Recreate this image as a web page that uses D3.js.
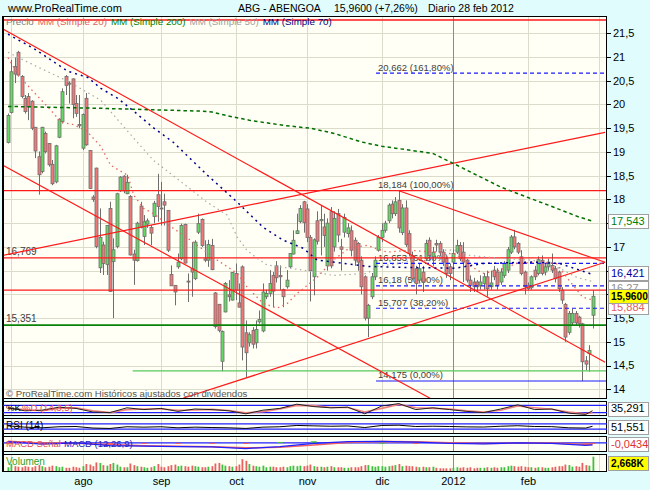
<!DOCTYPE html>
<html><head><meta charset="utf-8">
<script src="https://cdn.jsdelivr.net/npm/d3@7"></script>
<style>body{margin:0;background:#e0fcfc;} svg{display:block;font-family:"Liberation Sans",Arial,sans-serif;}</style>
</head><body><svg id="c" width="650" height="490"></svg>
<script>
// ---------- DATA ----------
const open = [
19.20,19.83,20.80,21.10,20.59,20.13,20.17,20.07,19.52,18.90,
18.59,19.39,19.18,18.74,18.37,19.31,19.64,20.59,20.45,20.54,
20.02,19.58,19.08,20.13,19.03,18.05,18.66,16.56,17.04,16.63,
17.81,16.69,17.01,18.18,18.49,18.12,18.06,16.85,16.71,17.86,
17.22,17.48,17.41,17.64,18.10,17.82,17.95,17.77,16.42,16.19,
16.58,16.75,17.47,16.28,16.54,16.33,17.31,17.58,16.75,16.72,
17.03,16.03,15.79,14.59,15.63,15.99,15.88,16.44,15.82,16.58,
15.19,14.98,15.24,14.98,15.42,15.23,15.95,16.02,16.40,16.60,
16.40,16.10,16.16,16.58,16.85,17.28,17.53,17.95,17.80,17.20,
16.37,17.55,17.55,17.42,16.60,17.74,17.00,17.70,17.00,17.31,
17.28,17.34,17.14,17.07,16.72,16.37,15.50,15.95,16.37,16.93,
17.20,17.35,17.55,17.90,17.70,17.98,17.30,17.82,17.28,16.82,
16.54,16.30,16.47,16.75,17.14,16.79,17.07,17.07,16.89,16.75,
16.58,16.68,16.89,17.03,16.89,16.72,16.30,16.26,16.26,16.19,
16.23,16.37,16.16,16.51,16.47,16.26,16.40,16.51,16.89,17.21,
17.07,16.79,16.47,16.19,16.14,16.51,16.44,16.72,16.47,16.58,
16.61,16.54,16.47,16.09,15.79,15.20,15.40,15.60,15.52,15.38,
14.60,14.75,15.56];
const high = [
19.81,20.94,20.99,21.13,20.62,20.20,20.24,20.09,19.52,19.01,
19.53,19.43,19.18,18.83,19.15,19.71,20.34,20.62,20.49,20.55,
20.20,20.20,19.81,20.24,19.04,18.09,18.67,17.81,17.11,17.46,
17.95,17.18,18.14,18.49,18.51,18.52,18.09,16.94,17.53,17.95,
17.67,17.60,17.46,17.97,18.54,18.37,18.12,17.77,16.61,16.19,
16.86,17.49,17.49,16.44,17.10,17.14,17.70,17.60,17.14,17.15,
17.17,16.05,15.80,15.24,16.26,16.30,16.47,16.65,16.23,16.61,
15.45,15.20,15.31,15.45,15.66,16.23,16.10,16.51,16.47,16.70,
16.61,16.12,16.51,16.87,17.35,17.70,17.88,17.97,17.90,17.25,
17.18,17.75,17.88,17.70,17.60,17.84,17.75,17.80,17.17,17.70,
17.50,17.45,17.20,17.10,16.80,16.40,15.80,16.45,16.80,17.25,
17.50,17.55,17.92,17.98,18.05,18.184,17.90,17.98,17.35,16.90,
16.60,16.65,16.60,17.15,17.20,17.00,17.15,17.12,16.95,16.80,
16.65,16.95,17.15,17.10,17.10,16.75,16.40,16.35,16.30,16.40,
16.45,16.50,16.50,16.60,16.55,16.55,16.70,17.00,17.25,17.36,
17.10,16.93,16.50,16.25,16.40,16.60,16.80,16.82,16.65,16.75,
16.86,16.60,16.50,16.15,15.82,15.65,15.70,15.65,15.55,15.40,
14.70,14.93,16.09];
const low = [
19.18,19.81,20.45,20.59,20.13,19.81,19.67,19.46,18.87,18.10,
18.55,18.97,18.69,18.30,18.34,19.29,19.60,20.20,20.02,19.71,
19.74,19.50,19.04,19.13,18.22,17.95,16.97,16.45,16.41,16.41,
16.06,15.50,16.97,18.16,18.13,18.11,16.82,16.20,16.69,17.39,
17.04,17.40,17.04,17.50,17.53,17.45,17.45,16.89,16.18,15.77,
16.54,16.72,16.65,15.84,15.95,16.30,17.27,17.00,16.68,16.58,
16.51,15.28,15.20,14.38,15.62,15.85,15.87,15.88,15.73,14.61,
14.26,14.90,14.86,14.86,15.38,15.20,15.90,15.95,15.73,16.25,
16.09,15.73,16.12,16.55,16.84,17.27,17.50,17.30,17.10,15.85,
15.98,17.05,16.82,17.00,16.50,16.55,16.90,17.10,16.50,17.20,
17.20,16.80,16.60,16.50,16.00,15.45,15.10,15.90,16.30,16.90,
17.10,17.30,17.50,17.60,17.65,17.30,17.25,17.00,16.80,16.30,
16.00,16.25,16.05,16.70,16.70,16.60,16.90,16.80,16.60,16.35,
16.30,16.55,16.85,16.70,16.26,16.25,16.05,16.05,16.05,16.10,
16.10,15.95,16.10,16.30,16.10,16.20,16.35,16.45,16.85,16.95,
16.85,16.40,16.00,16.09,16.10,16.30,16.40,16.40,16.40,16.50,
16.45,16.25,16.05,15.80,15.00,15.15,15.35,15.35,15.30,14.175,
14.40,14.37,15.28];
const close = [
19.77,20.69,20.64,20.62,20.17,19.85,19.95,19.50,19.02,18.52,
19.52,19.01,18.73,18.33,19.13,19.69,20.27,20.40,20.43,20.00,
19.81,19.55,19.79,19.15,18.23,18.00,17.01,17.20,16.65,17.45,
16.06,16.94,18.12,18.47,18.18,18.36,16.83,16.72,17.50,17.41,
17.53,17.55,17.29,17.92,17.85,17.80,17.88,16.93,16.18,16.05,
16.68,17.45,16.66,16.26,16.47,17.10,17.49,17.03,16.72,17.05,
16.52,15.32,15.24,15.22,16.23,15.95,16.46,16.09,15.73,14.89,
14.77,15.15,14.95,15.26,15.47,16.05,16.02,16.23,16.07,16.35,
16.37,15.95,16.30,16.86,17.14,17.34,17.81,17.51,17.20,16.50,
17.15,17.12,17.58,17.24,17.50,16.60,17.60,17.25,16.95,17.62,
17.40,16.93,16.72,16.68,16.16,15.50,15.77,16.37,16.72,17.20,
17.35,17.50,17.88,17.70,17.95,17.40,17.82,17.05,16.86,16.33,
16.23,16.54,16.26,17.07,16.82,16.89,17.04,16.89,16.68,16.44,
16.44,16.86,17.03,16.75,16.68,16.30,16.19,16.16,16.16,16.26,
16.37,16.12,16.24,16.37,16.19,16.47,16.65,16.94,17.21,17.00,
16.89,16.44,16.16,16.12,16.37,16.37,16.73,16.44,16.58,16.68,
16.51,16.33,16.12,15.88,15.10,15.60,15.60,15.40,15.38,14.58,
14.53,14.82,15.96];
const volume = [
700,1300,900,800,700,900,800,700,900,1100,
900,700,800,1000,900,700,800,600,600,800,
700,600,900,1300,1200,900,1600,1500,1100,1000,
1300,1500,1200,800,700,700,1400,1100,900,800,
700,600,700,900,1300,800,700,900,1100,1200,
900,1000,900,800,1000,900,800,700,700,800,
900,1400,1500,1200,1000,900,800,900,1200,2200,
1900,1300,1000,900,800,1000,700,800,800,700,
700,800,700,900,1000,900,1000,900,1000,1200,
900,800,800,700,800,900,700,700,700,600,
600,700,700,700,900,1100,1100,900,800,900,
900,800,900,1000,1100,1300,900,1000,900,900,
800,700,800,700,700,800,600,500,500,500,
500,600,700,600,700,600,700,500,600,600,
600,700,600,700,600,700,700,900,1000,900,
800,900,800,700,700,600,700,700,600,600,
700,800,900,900,1200,1100,800,900,800,1500,
1100,1000,2668];

// moving averages: [day index, value]
const ma20 = [[0,20.99],[3,20.62],[7.6,20.26],[12.6,19.88],[15.6,19.63],[19,19.58],[23,19.45],[27.3,19.12],[30.2,18.72],[35.2,18.51],[37,18.09],[39.9,17.81],[42.6,17.71],[48.7,17.39],[53.7,17.14],[61.6,16.72],[67.5,16.44],[70.4,16.15],[75.1,15.81],[79.2,15.71],[82.2,15.81],[85.1,16.02],[91,16.36],[95.7,16.72],[100.7,16.99],[105.7,17.03],[111.5,16.89],[118.3,16.93],[125,16.89],[131.5,16.85],[135,16.65],[139.7,16.44],[144.7,16.51],[149.7,16.65],[155.6,16.68],[161.4,16.65],[164.4,16.36],[169.1,15.94],[172,15.884]];
const ma200 = [[0,19.96],[27,19.92],[57,19.86],[60,19.84],[66,19.74],[71,19.67],[81,19.56],[89,19.50],[96,19.39],[104,19.21],[110,19.12],[115,19.07],[125,18.97],[131,18.76],[138,18.51],[145,18.26],[153,18.04],[159,17.88],[168,17.63],[172,17.543]];
const ma50 = [[0,21.10],[7.6,20.83],[17.6,20.49],[27.3,20.09],[37,19.29],[42.7,18.83],[51.5,18.34],[58.6,17.94],[64.5,17.67],[67.4,17.21],[70.3,16.93],[73.3,16.76],[76.2,16.62],[83,16.55],[86.8,16.51],[95.7,16.40],[105.7,16.44],[108.6,16.59],[115.3,16.65],[120.3,16.76],[127,16.93],[131.5,16.93],[136,16.82],[144.7,16.76],[154.4,16.72],[162.3,16.55],[167.3,16.36],[172,16.27]];
const ma70 = [[0,21.48],[7.6,21.18],[17.6,20.70],[23.5,20.57],[27.3,20.34],[32.3,20.13],[37,19.86],[42.6,19.52],[48.7,19.20],[58.7,18.51],[67.5,17.94],[75.1,17.41],[81,17.14],[86.9,16.97],[91,16.72],[95.7,16.68],[105.7,16.59],[115.3,16.57],[131.5,16.55],[139.7,16.65],[154.4,16.68],[162.3,16.65],[172,16.421]];

// drawn levels and trend lines
const redLevels = [21.78, 18.184, 16.769, 16.09];
const greenLevel = 15.351;
const lightGreenLevel = 14.39, lightGreenFrom = 36.7;
const fibFrom = 108.3;
const fibLevels = [20.662, 18.184, 16.653, 16.18, 15.707, 14.175];
const fibLabels = ["20,662 (161,80%)","18,184 (100,00%)","16,653 (61,80%)","16,18 (50,00%)","15,707 (38,20%)","14,175 (0,00%)"];
const trendLines = [
  [[-1.5,21.588],[175.7,14.569]],
  [[-1.5,18.719],[124.2,13.811]],
  [[-1.5,16.823],[175.7,19.414]],
  [[51.5,13.811],[175.7,16.676]],
  [[115,18.184],[175.7,16.676]]
];

// axis
const priceTicks = [14,14.5,15,15.5,16,16.5,17,17.5,18,18.5,19,19.5,20,20.5,21,21.5];
const monthIdx = [1,22,45,67,88,110,131,153,174];
const monthLabels = ["","ago","sep","oct","nov","dic","2012","feb",""];

// indicators
const indIdx = [0,5,10,15,20,25,30,35,40,45,50,55,60,65,70,75,80,85,90,95,100,105,110,115,120,125,130,135,140,145,150,155,160,165,170,172];
const stochK = [60,35,40,65,55,25,20,60,45,55,30,50,45,35,10,40,55,90,70,60,65,10,75,95,45,60,45,30,20,50,85,45,50,15,5,35.291];
const stochD = [55,45,35,55,60,35,20,45,50,50,40,42,47,38,18,28,50,80,78,63,62,25,55,88,60,55,50,35,25,40,75,60,48,25,10,20];
const rsi = [55,45,40,48,50,38,35,48,45,48,40,45,42,40,35,45,48,58,55,52,54,42,58,60,50,52,50,47,46,52,56,50,49,40,38,51.551];
const macdIdx = [0,10,20,30,40,50,60,70,80,90,100,110,120,130,140,150,160,170,172];
const macd = [0.15,-0.15,0.0,-0.35,-0.4,-0.45,-0.5,-0.7,-0.45,-0.05,0.15,0.2,0.1,-0.05,-0.12,0.0,-0.05,-0.3,-0.25];
const signal = [0.2,0.0,-0.05,-0.2,-0.35,-0.42,-0.48,-0.6,-0.55,-0.25,0.05,0.18,0.15,0.02,-0.08,-0.04,-0.03,-0.2,-0.21];

// ---------- DRAW ----------
const svg = d3.select('#c');
const L=3, R=607, T=16, B=399;
const N = close.length;
const x = d3.scaleLinear().domain([0, N-1]).range([8, 592.5]);
const y = d3.scaleLinear().domain([14, 21.5]).range([389.3, 33.3]);
const fmt = v => String(v).replace('.', ',');

svg.append('rect').attr('width',650).attr('height',490).attr('fill','#e0fcfc');
const panels = [{t:T,b:B},{t:401,b:416},{t:418,b:434},{t:436,b:452},{t:454,b:472}];
panels.forEach(p => svg.append('rect').attr('x',L).attr('y',p.t).attr('width',R-L).attr('height',p.b-p.t).attr('fill','#fffff5'));

const defs = svg.append('defs');
defs.append('clipPath').attr('id','cm').append('rect').attr('x',L).attr('y',T).attr('width',R-L).attr('height',B-T);

// grid
const g = svg.append('g').attr('shape-rendering','crispEdges');
priceTicks.forEach(v => g.append('line').attr('x1',L).attr('x2',R).attr('y1',Math.round(y(v))+0.5).attr('y2',Math.round(y(v))+0.5).attr('stroke','#dcdcca'));
monthIdx.forEach((m,i) => {
  const xx = Math.round(x(m))+0.5;
  if (xx > R) return;
  panels.forEach(p => g.append('line').attr('x1',xx).attr('x2',xx).attr('y1',p.t).attr('y2',p.b)
    .attr('stroke', monthLabels[i]==='2012' ? '#8c8c8c' : '#dcdcca'));
  if (monthLabels[i]) svg.append('text').attr('x',xx).attr('y',485).attr('text-anchor','middle').attr('font-size',11).text(monthLabels[i]);
});

const main = svg.append('g').attr('clip-path','url(#cm)');

// fib labels (under candles)
fibLevels.forEach((v,i) => main.append('text').attr('x',x(fibFrom)+2).attr('y',y(v)-2.5).attr('font-size',9.5).attr('fill','#404040').text(fibLabels[i]));
main.append('text').attr('x',6).attr('y',y(16.769)-2.5).attr('font-size',10).attr('fill','#404040').text('16,769');
main.append('text').attr('x',6).attr('y',y(greenLevel)-3).attr('font-size',10).attr('fill','#404040').text('15,351');

// candles
d3.range(N).forEach(i => {
  const up = close[i] >= open[i];
  const cx = Math.round(x(i)) + 0.5;
  main.append('line').attr('x1',cx).attr('x2',cx).attr('y1',y(high[i])).attr('y2',y(low[i])).attr('stroke','#6e6e6e').attr('stroke-width',1);
  const top = y(Math.max(open[i],close[i])), bot = y(Math.min(open[i],close[i]));
  main.append('rect').attr('x',cx-1.5).attr('y',top).attr('width',3).attr('height',Math.max(1,bot-top))
    .attr('fill', up ? '#66d866' : '#f07878').attr('stroke','#6e6e6e').attr('stroke-width',0.8);
});

// levels
const hl = (v, x1, x2, col, w, dash) => main.append('line').attr('x1',x1).attr('x2',x2).attr('y1',y(v)).attr('y2',y(v))
  .attr('stroke',col).attr('stroke-width',w).attr('stroke-dasharray',dash||null);
fibLevels.forEach((v,i) => { if (v === 18.184) return; hl(v, x(fibFrom), R, '#1a1aff', 1.2, v===14.175 ? null : '4,3'); });
redLevels.forEach(v => hl(v, L, R, '#ff1a1a', 1.3));
hl(greenLevel, L, R, '#0a820a', 1.8);
hl(lightGreenLevel, x(lightGreenFrom), R, '#5ac85a', 1.3);

// trend lines
trendLines.forEach(t => main.append('line').attr('x1',x(t[0][0])).attr('y1',y(t[0][1])).attr('x2',x(t[1][0])).attr('y2',y(t[1][1]))
  .attr('stroke','#ff1a1a').attr('stroke-width',1.2));

// moving averages
const ln = d3.line().x(d => x(d[0])).y(d => y(d[1]));
main.append('path').attr('d',ln(ma50)).attr('fill','none').attr('stroke','#a8a8a8').attr('stroke-width',1.2).attr('stroke-dasharray','1.5,3.5');
main.append('path').attr('d',ln(ma20)).attr('fill','none').attr('stroke','#e86464').attr('stroke-width',1.3).attr('stroke-dasharray','1.5,3.5');
main.append('path').attr('d',ln(ma70)).attr('fill','none').attr('stroke','#000090').attr('stroke-width',1.5).attr('stroke-dasharray','2,4');
main.append('path').attr('d',ln(ma200)).attr('fill','none').attr('stroke','#006e00').attr('stroke-width',1.5).attr('stroke-dasharray','3.5,3');

// legend
let lx = 6;
[['Precio','#808080'],['MM (Simple 20)','#e06060'],['MM (Simple 200)','#008000'],['MM (Simple 50)','#a0a0a0'],['MM (Simple 70)','#000080']].forEach(([t,c]) => {
  const el = svg.append('text').attr('x',lx).attr('y',25).attr('font-size',9.8).attr('fill',c).text(t);
  lx += el.node().getComputedTextLength() + 4;
});
svg.append('text').attr('x',6).attr('y',397).attr('font-size',9.6).attr('fill','#555').text('© ProRealTime.com  Históricos ajustados con dividendos');

// titles
svg.append('text').attr('x',8).attr('y',12).attr('font-size',11).text('www.ProRealTime.com');
svg.append('text').attr('x',238).attr('y',12).attr('font-size',10.5).text('ABG - ABENGOA');
svg.append('text').attr('x',334).attr('y',12).attr('font-size',10.5).text('15,9600 (+7,26%)');
svg.append('text').attr('x',428).attr('y',12).attr('font-size',10.5).text('Diario  28 feb 2012');

// frames
panels.forEach(p => svg.append('rect').attr('x',L+0.5).attr('y',p.t+0.5).attr('width',R-L-1).attr('height',p.b-p.t-1)
  .attr('fill','none').attr('stroke','#000').attr('stroke-width',1).attr('shape-rendering','crispEdges'));
svg.append('line').attr('x1',L).attr('x2',L).attr('y1',T).attr('y2',472).attr('stroke','#000').attr('stroke-width',2);

// value boxes (their centres), used to hide covered tick labels
const boxes = [
  {cy: y(ma20[ma20.length-1][1])+7, s: fmt(ma20[ma20.length-1][1]), col:'#e06060', bg:'#fff'},
  {cy: y(ma50[ma50.length-1][1])+6, s: fmt(ma50[ma50.length-1][1]), col:'#909090', bg:'#fff'},
  {cy: y(ma70[ma70.length-1][1])-1, s: fmt(ma70[ma70.length-1][1]), col:'#0000a0', bg:'#fff'},
  {cy: y(ma200[ma200.length-1][1]), s: fmt(ma200[ma200.length-1][1]), col:'#008000', bg:'#fff'},
  {cy: y(close[N-1]), s: '15,9600', col:'#000', bg:'#ffff00', bold:true}
];

// price axis
priceTicks.forEach(v => {
  const yy = Math.round(y(v))+0.5;
  svg.append('line').attr('x1',R).attr('x2',R+4).attr('y1',yy).attr('y2',yy).attr('stroke','#000');
  const covered = boxes.some(b => Math.abs(b.cy - y(v)) < 11);
  if (!covered) svg.append('text').attr('x',613).attr('y',y(v)).attr('dy','0.35em').attr('font-size',11).text(fmt(v));
});

function box(cy, str, col, bg, bold) {
  svg.append('rect').attr('x',608.5).attr('y',Math.round(cy-7)+0.5).attr('width',40).attr('height',14)
    .attr('fill',bg).attr('stroke','#a0a0a0').attr('shape-rendering','crispEdges');
  svg.append('text').attr('x',611).attr('y',cy).attr('dy','0.36em').attr('font-size',bold?10.2:11)
    .attr('font-weight',bold?'bold':null).attr('fill',col).text(str);
}
boxes.forEach(b => box(b.cy, b.s, b.col, b.bg, b.bold));

// ---- lower panels ----
const sY = d3.scaleLinear().domain([0,100]).range([415,403]);
const rY = d3.scaleLinear().domain([0,100]).range([433,420]);
const mY = d3.scaleLinear().domain([-1,0.6]).range([451,438]);
const vY = d3.scaleLinear().domain([0,2800]).range([471,456]);
const blue = (yy) => svg.append('line').attr('x1',L).attr('x2',R).attr('y1',yy).attr('y2',yy).attr('stroke','#2020ff').attr('stroke-width',1.2);
blue(sY(80)); blue(sY(20)); blue(rY(70)); blue(rY(30)); blue(mY(0));

const pl = (xs, vs, sc) => d3.line().x((d,i) => x(xs[i])).y(d => sc(d))(vs);
svg.append('path').attr('d',pl(indIdx,stochD,sY)).attr('fill','none').attr('stroke','#f08080').attr('stroke-width',1.6);
svg.append('path').attr('d',pl(indIdx,stochK,sY)).attr('fill','none').attr('stroke','#202020').attr('stroke-width',1);
svg.append('path').attr('d',pl(indIdx,rsi,rY)).attr('fill','none').attr('stroke','#000').attr('stroke-width',1);
macdIdx.forEach((m,i) => {
  const h = macd[i]-signal[i];
  svg.append('rect').attr('x',x(m)-3).attr('y',Math.min(mY(0),mY(h))).attr('width',6).attr('height',Math.max(1,Math.abs(mY(h)-mY(0))))
    .attr('fill', h>=0 ? '#40c040' : '#f06060');
});
svg.append('path').attr('d',pl(macdIdx,signal,mY)).attr('fill','none').attr('stroke','#f06060').attr('stroke-width',1.5);
svg.append('path').attr('d',pl(macdIdx,macd,mY)).attr('fill','none').attr('stroke','#2020ff').attr('stroke-width',1.2);

volume.forEach((v,i) => {
  const up = close[i] >= open[i];
  svg.append('rect').attr('x',Math.round(x(i))-0.5).attr('y',vY(v)).attr('width',1.8).attr('height',vY(0)-vY(v))
    .attr('fill', up ? '#40c040' : '#e86060');
});

// panel labels
svg.append('text').attr('x',6).attr('y',411).attr('font-size',9.5).attr('fill','#000').text('%K');
svg.append('text').attr('x',22).attr('y',411).attr('font-size',9.5).attr('fill','#e05050').text('%D (14,3,5)');
svg.append('text').attr('x',6).attr('y',429).attr('font-size',10).attr('fill','#000').text('RSI (14)');
svg.append('text').attr('x',6).attr('y',447).attr('font-size',9.5).attr('fill','#e05050').text('MACD Señal');
svg.append('text').attr('x',64).attr('y',447).attr('font-size',9.5).attr('fill','#2020c0').text('MACD (12,26,9)');
svg.append('text').attr('x',6).attr('y',465).attr('font-size',10).attr('fill','#30a030').text('Volumen');

function pbox(cy, str, col, bg, bold) {
  svg.append('rect').attr('x',608.5).attr('y',Math.round(cy-7)+0.5).attr('width',40).attr('height',14)
    .attr('fill',bg).attr('stroke','#a0a0a0').attr('shape-rendering','crispEdges');
  svg.append('text').attr('x',611).attr('y',cy).attr('dy','0.36em').attr('font-size',bold?10.2:11).attr('font-weight',bold?'bold':null).attr('fill',col).text(str);
}
pbox(408.5, fmt(stochK[stochK.length-1]), '#000', '#fff');
pbox(427, fmt(rsi[rsi.length-1]), '#000', '#fff');
pbox(444, fmt((macd[macd.length-1]-signal[signal.length-1]-0.0034).toFixed(4)), '#e03030', '#fff');
pbox(463, '2,668K', '#000', '#ffff00', true);
</script></body></html>
